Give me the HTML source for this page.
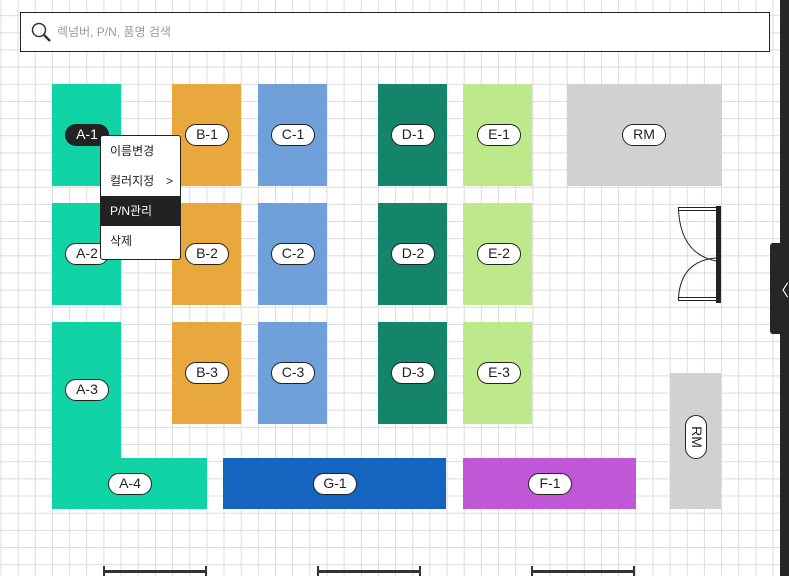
<!DOCTYPE html>
<html><head><meta charset="utf-8"><style>
*{margin:0;padding:0;box-sizing:border-box}
body{width:789px;height:576px;overflow:hidden;position:relative;background:#fff;
background-image:linear-gradient(to right,#dcdcdc 1px,transparent 1px),linear-gradient(to bottom,#dcdcdc 1px,transparent 1px);
background-size:17.17px 17.17px;background-position:0.5px -2px;
font-family:"Liberation Sans","Noto Sans CJK KR",sans-serif}
.b{position:absolute}
.p{position:absolute;width:44px;height:22px;margin:-11px 0 0 -22px;background:#fff;border:1.3px solid #222;border-radius:11px;font-size:14px;line-height:19px;text-align:center;color:#222}
.t{background:#10d3a6}.o{background:#e9a83e}.c{background:#6fa0da}.d{background:#14846a}.e{background:#bde98a}.g{background:#d1d1d1}
.m{position:absolute;left:100px;top:135px;width:81px;height:125px;background:#fff;border:1px solid #222;border-radius:3px;font-size:12px;color:#222;overflow:hidden}
.m div{height:30px;line-height:30px;padding-left:9px}
.bar{position:absolute;top:570px;height:3px;background:#333}
.tk{position:absolute;top:566px;width:2px;height:10px;background:#333}
</style></head><body>
<div class="b" style="left:20px;top:12px;width:750px;height:40px;border:1.5px solid #222;background:#fff"></div>
<svg class="b" style="left:31px;top:22px" width="22" height="22"><circle cx="8" cy="8" r="6.5" fill="none" stroke="#333" stroke-width="1.5"/><line x1="13" y1="13" x2="19" y2="19" stroke="#333" stroke-width="2.5"/></svg>
<div class="b" style="left:57px;top:23px;font-size:12px;color:#999">렉넘버, P/N, 품명 검색</div>

<div class="b t" style="left:52px;top:84px;width:69px;height:102px"></div>
<div class="b t" style="left:52px;top:203px;width:69px;height:102px"></div>
<div class="b t" style="left:52px;top:322px;width:69px;height:187px"></div>
<div class="b t" style="left:52px;top:458px;width:155px;height:51px"></div>
<div class="b o" style="left:172px;top:84px;width:69px;height:102px"></div>
<div class="b o" style="left:172px;top:203px;width:69px;height:102px"></div>
<div class="b o" style="left:172px;top:322px;width:69px;height:102px"></div>
<div class="b c" style="left:258px;top:84px;width:69px;height:102px"></div>
<div class="b c" style="left:258px;top:203px;width:69px;height:102px"></div>
<div class="b c" style="left:258px;top:322px;width:69px;height:102px"></div>
<div class="b d" style="left:378px;top:84px;width:69px;height:102px"></div>
<div class="b d" style="left:378px;top:203px;width:69px;height:102px"></div>
<div class="b d" style="left:378px;top:322px;width:69px;height:102px"></div>
<div class="b e" style="left:463px;top:84px;width:69px;height:102px"></div>
<div class="b e" style="left:463px;top:203px;width:69px;height:102px"></div>
<div class="b e" style="left:463px;top:322px;width:69px;height:102px"></div>
<div class="b g" style="left:567px;top:84px;width:155px;height:102px"></div>
<div class="b g" style="left:670px;top:373px;width:51px;height:136px"></div>
<div class="b" style="left:223px;top:458px;width:223px;height:51px;background:#1565c0"></div>
<div class="b" style="left:463px;top:458px;width:173px;height:51px;background:#bf57d6"></div>

<div class="p" style="left:87px;top:135px;background:#222;color:#fff">A-1</div>
<div class="p" style="left:87px;top:254px">A-2</div>
<div class="p" style="left:87px;top:390px">A-3</div>
<div class="p" style="left:130px;top:484px">A-4</div>
<div class="p" style="left:207px;top:135px">B-1</div>
<div class="p" style="left:207px;top:254px">B-2</div>
<div class="p" style="left:207px;top:373px">B-3</div>
<div class="p" style="left:293px;top:135px">C-1</div>
<div class="p" style="left:293px;top:254px">C-2</div>
<div class="p" style="left:293px;top:373px">C-3</div>
<div class="p" style="left:413px;top:135px">D-1</div>
<div class="p" style="left:413px;top:254px">D-2</div>
<div class="p" style="left:413px;top:373px">D-3</div>
<div class="p" style="left:499px;top:135px">E-1</div>
<div class="p" style="left:499px;top:254px">E-2</div>
<div class="p" style="left:499px;top:373px">E-3</div>
<div class="p" style="left:644px;top:135px">RM</div>
<div class="p" style="left:696px;top:437px;transform:rotate(90deg)">RM</div>
<div class="p" style="left:335px;top:484px">G-1</div>
<div class="p" style="left:550px;top:484px">F-1</div>

<div class="m">
<div>이름변경</div>
<div>컬러지정<span style="float:right;margin-right:7px">&gt;</span></div>
<div style="background:#222;color:#fff">P/N관리</div>
<div>삭제</div>
</div>

<svg class="b" style="left:676px;top:204px" width="50" height="102">
<rect x="40" y="2" width="5" height="97" fill="#222"/>
<rect x="2.5" y="3.5" width="38" height="3" fill="#fff" stroke="#222" stroke-width="1"/>
<rect x="2.5" y="93.5" width="38" height="3" fill="#fff" stroke="#222" stroke-width="1"/>
<path d="M2.5 6.5 Q5 50 40 57" fill="none" stroke="#222" stroke-width="1"/>
<path d="M2.5 93.5 Q5 57 40 54" fill="none" stroke="#222" stroke-width="1"/>
</svg>

<div class="b" style="left:780px;top:0;width:9px;height:576px;background:#262626"></div>
<div class="b" style="left:770px;top:243px;width:19px;height:91px;background:#262626;border-radius:3px 0 0 3px"></div>
<div class="b" style="left:773px;top:277px;color:#fff;font-size:16px">〈</div>

<div class="bar" style="left:104px;width:102px"></div><div class="tk" style="left:103px"></div><div class="tk" style="left:205px"></div>
<div class="bar" style="left:318px;width:102px"></div><div class="tk" style="left:317px"></div><div class="tk" style="left:419px"></div>
<div class="bar" style="left:532px;width:102px"></div><div class="tk" style="left:531px"></div><div class="tk" style="left:633px"></div>
</body></html>
